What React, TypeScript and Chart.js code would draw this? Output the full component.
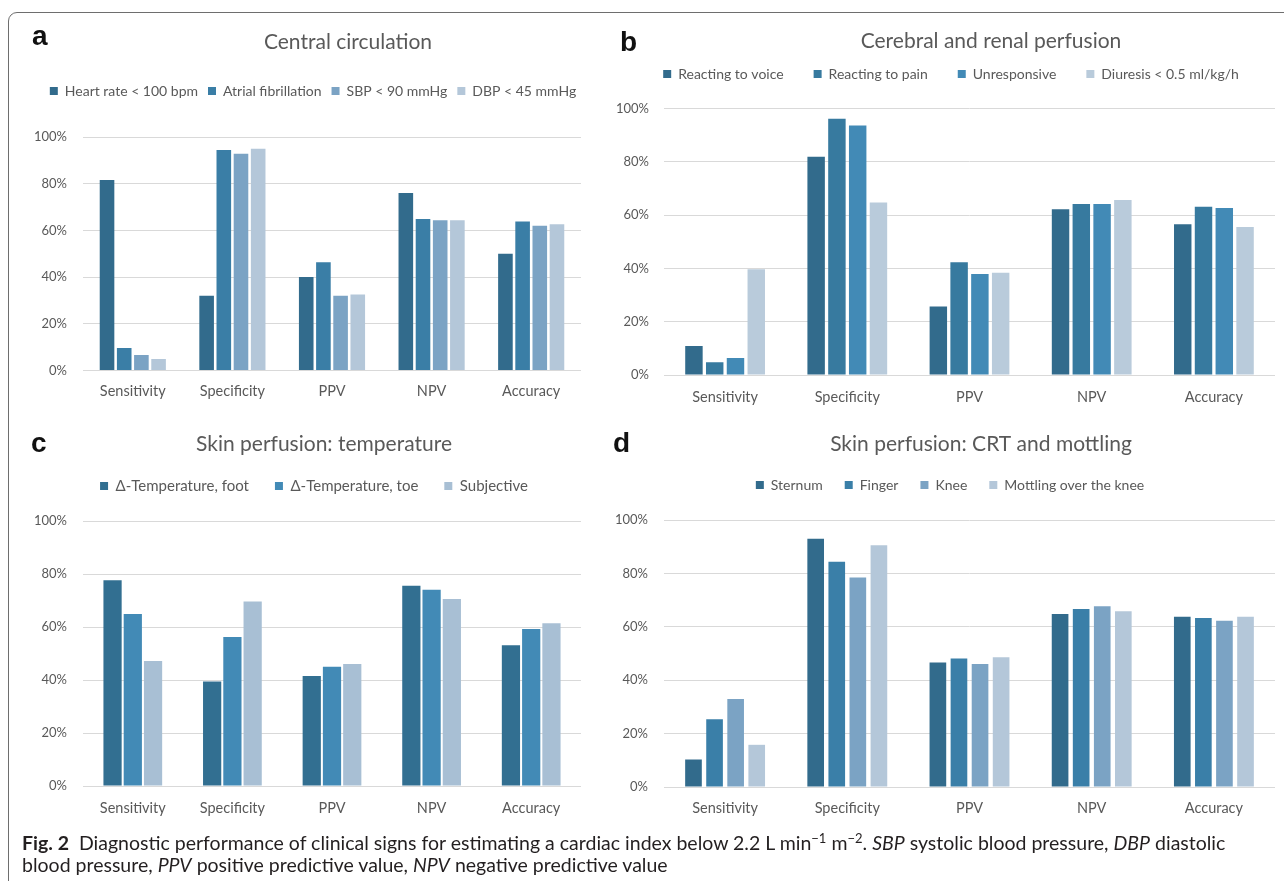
import React, { useEffect, useRef } from 'react';
import { Chart, registerables } from 'chart.js';

Chart.register(...registerables);

// ---------- data ----------
const categories = ['Sensitivity', 'Specificity', 'PPV', 'NPV', 'Accuracy'];
const yTicks = [0, 20, 40, 60, 80, 100];

const aTitle = 'Central circulation';
const aSeriesNames = ['Heart rate < 100 bpm', 'Atrial fibrillation', 'SBP < 90 mmHg', 'DBP < 45 mmHg'];
const aHeartRate = [81.7, 32.0, 40.1, 76.1, 50.0];
const aAtrialFib = [9.6, 94.6, 46.4, 65.0, 63.9];
const aSBP = [6.6, 92.9, 32.0, 64.4, 62.1];
const aDBP = [4.9, 95.1, 32.6, 64.4, 62.7];

const bTitle = 'Cerebral and renal perfusion';
const bSeriesNames = ['Reacting to voice', 'Reacting to pain', 'Unresponsive', 'Diuresis < 0.5 ml/kg/h'];
const bVoice = [10.9, 82.0, 25.7, 62.2, 56.6];
const bPain = [4.8, 96.2, 42.3, 64.2, 63.2];
const bUnresponsive = [6.4, 93.7, 37.9, 64.2, 62.7];
const bDiuresis = [39.7, 64.8, 38.4, 65.7, 55.6];

const cTitle = 'Skin perfusion: temperature';
const cSeriesNames = ['Δ-Temperature, foot', 'Δ-Temperature, toe', 'Subjective'];
const cFoot = [77.6, 39.4, 41.5, 75.6, 53.1];
const cToe = [64.9, 56.2, 45.0, 74.1, 59.2];
const cSubjective = [47.2, 69.6, 46.0, 70.6, 61.4];

const dTitle = 'Skin perfusion: CRT and mottling';
const dSeriesNames = ['Sternum', 'Finger', 'Knee', 'Mottling over the knee'];
const dSternum = [10.3, 93.0, 46.6, 64.8, 63.8];
const dFinger = [25.4, 84.4, 48.1, 66.7, 63.3];
const dKnee = [33.0, 78.5, 46.1, 67.7, 62.3];
const dMottling = [15.8, 90.5, 48.6, 65.8, 63.8];

// ---------- styles ----------
const FONT = 'Lato, "Open Sans", sans-serif';
const TEXT_GREY = '#595959';
const GRID = '#d9d9d9';
const TITLE_SIZE = 21;
const XTICK_SIZE = 14.5;
const YTICK_SIZE = 13;

const aColors = ['#326B8C', '#3A7EA6', '#7BA3C4', '#B4C7D9'];
const bColors = ['#326B8C', '#377A9F', '#428AB6', '#B9CBDB'];
const cColors = ['#326F91', '#428AB6', '#A8BFD4'];
const dColors = ['#326B8C', '#3A7FA8', '#7BA3C4', '#B4C7D9'];

type Layout = {
  titleX: number; titleY: number;
  legendX: number; legendY: number; legendPad: number; legendSize: number;
  canvasTop: number; yAxisWidth: number;
  chartLeft: number; chartRight: number; chartTop: number; chartBottom: number;
  yLabelRight: number; xLabelY: number;
  catPct: number; barPct: number;
};

const layoutA: Layout = {
  titleX: 348, titleY: 42, legendX: 313, legendY: 91, legendPad: 10, legendSize: 14,
  canvasTop: 14, yAxisWidth: 52, chartLeft: 83, chartRight: 581, chartTop: 137.3, chartBottom: 370.7,
  yLabelRight: 67, xLabelY: 392, catPct: 0.69, barPct: 0.85,
};
const layoutB: Layout = {
  titleX: 991, titleY: 41, legendX: 951, legendY: 74, legendPad: 30, legendSize: 14,
  canvasTop: 14, yAxisWidth: 56, chartLeft: 664, chartRight: 1275, chartTop: 108.7, chartBottom: 375,
  yLabelRight: 649, xLabelY: 397, catPct: 0.68, barPct: 0.84,
};
const layoutC: Layout = {
  titleX: 324, titleY: 444, legendX: 314, legendY: 486, legendPad: 26, legendSize: 15,
  canvasTop: 420, yAxisWidth: 52, chartLeft: 83, chartRight: 581, chartTop: 521, chartBottom: 786,
  yLabelRight: 67, xLabelY: 808, catPct: 0.61, barPct: 0.9,
};
const layoutD: Layout = {
  titleX: 981, titleY: 444, legendX: 950, legendY: 485, legendPad: 22, legendSize: 14,
  canvasTop: 420, yAxisWidth: 56, chartLeft: 664, chartRight: 1275, chartTop: 520, chartBottom: 787,
  yLabelRight: 648, xLabelY: 808, catPct: 0.69, barPct: 0.79,
};

type PanelProps = {
  title: string;
  names: string[];
  series: number[][];
  colors: string[];
  lay: Layout;
};

function Panel({ title, names, series, colors, lay }: PanelProps) {
  const ref = useRef<HTMLCanvasElement | null>(null);

  const canvasLeft = lay.chartLeft - lay.yAxisWidth;
  const canvasWidth = Math.ceil(lay.chartRight - canvasLeft + 2);
  const tickLH = XTICK_SIZE * 1.2;
  const xPad = lay.xLabelY - lay.chartBottom - tickLH / 2;
  const canvasHeight = Math.round(lay.chartBottom + tickLH + 2 * xPad - lay.canvasTop);
  const titleLH = TITLE_SIZE * 1.2;
  const legendH = lay.legendSize + lay.legendPad + 10;
  const titlePadTop = lay.chartTop - lay.canvasTop - titleLH - legendH;

  useEffect(() => {
    if (!ref.current) return;
    const placeBoxes = {
      id: 'placeBoxes',
      afterLayout(chart: any) {
        const t = chart.titleBlock;
        if (t) {
          const dx = (lay.titleX - canvasLeft) - (t.left + t.right) / 2;
          const dy = (lay.titleY - lay.canvasTop) - (t.top + titlePadTop + titleLH / 2);
          t.left += dx; t.right += dx; t.top += dy; t.bottom += dy;
        }
        const l = chart.legend;
        if (l) {
          const dx = (lay.legendX - canvasLeft) - (l.left + l.right) / 2;
          const dy = (lay.legendY - lay.canvasTop) - (l.top + lay.legendPad + lay.legendSize / 2);
          l.left += dx; l.right += dx; l.top += dy; l.bottom += dy;
        }
      },
    };
    const chart = new Chart(ref.current, {
      type: 'bar',
      data: {
        labels: categories,
        datasets: series.map((s, i) => ({
          label: names[i],
          data: s,
          backgroundColor: colors[i],
          borderWidth: 0,
          categoryPercentage: lay.catPct,
          barPercentage: lay.barPct,
        })),
      },
      options: {
        animation: false,
        responsive: false,
        devicePixelRatio: 1,
        layout: { padding: { left: 0, right: 2, top: 0, bottom: 0 } },
        events: [],
        plugins: {
          title: {
            display: true,
            text: title,
            color: TEXT_GREY,
            font: { family: FONT, size: TITLE_SIZE, weight: 'normal', lineHeight: 1.2 },
            padding: { top: titlePadTop, bottom: 0 },
          },
          legend: {
            display: true,
            position: 'top',
            labels: {
              boxWidth: 8,
              boxHeight: 8,
              padding: lay.legendPad,
              color: TEXT_GREY,
              font: { family: FONT, size: lay.legendSize },
            },
          },
          tooltip: { enabled: false },
        },
        scales: {
          x: {
            grid: { display: false, drawTicks: false },
            border: { display: false },
            ticks: {
              color: TEXT_GREY,
              font: { family: FONT, size: XTICK_SIZE, lineHeight: 1.2 },
              padding: xPad,
              maxRotation: 0,
            },
          },
          y: {
            min: 0,
            max: 100,
            grid: { color: GRID, lineWidth: 1, drawTicks: false },
            border: { display: false },
            afterBuildTicks: (s: any) => {
              s.ticks = yTicks.map((v) => ({ value: v }));
            },
            afterFit: (s: any) => {
              s.width = lay.yAxisWidth;
            },
            ticks: {
              color: TEXT_GREY,
              font: { family: FONT, size: YTICK_SIZE, lineHeight: 1.2 },
              padding: lay.chartLeft - lay.yLabelRight,
              callback: (v: any) => `${v}%`,
            },
          },
        },
      },
      plugins: [placeBoxes],
    } as any);
    return () => chart.destroy();
  }, []);

  return (
    <canvas
      ref={ref}
      width={canvasWidth}
      height={canvasHeight}
      style={{ position: 'absolute', left: canvasLeft, top: lay.canvasTop, width: canvasWidth, height: canvasHeight }}
    />
  );
}

const letterStyle = (left: number, top: number): React.CSSProperties => ({
  position: 'absolute',
  left,
  top,
  fontFamily: '"Liberation Sans", Arial, sans-serif',
  fontWeight: 'bold',
  fontSize: 28,
  lineHeight: '28px',
  color: '#111',
});

export default function App() {
  return (
    <div
      style={{
        position: 'fixed',
        left: 0,
        top: 0,
        width: 1284,
        height: 881,
        overflow: 'hidden',
        background: '#fff',
      }}
    >
      <div
        style={{
          position: 'absolute',
          left: 8,
          top: 12,
          width: 1320,
          height: 920,
          border: '1.5px solid #6e6e6e',
          borderRadius: 9,
          boxSizing: 'border-box',
        }}
      />
      <Panel title={aTitle} names={aSeriesNames} series={[aHeartRate, aAtrialFib, aSBP, aDBP]} colors={aColors} lay={layoutA} />
      <Panel title={bTitle} names={bSeriesNames} series={[bVoice, bPain, bUnresponsive, bDiuresis]} colors={bColors} lay={layoutB} />
      <Panel title={cTitle} names={cSeriesNames} series={[cFoot, cToe, cSubjective]} colors={cColors} lay={layoutC} />
      <Panel title={dTitle} names={dSeriesNames} series={[dSternum, dFinger, dKnee, dMottling]} colors={dColors} lay={layoutD} />
      <div style={letterStyle(32, 22)}>a</div>
      <div style={letterStyle(620, 28)}>b</div>
      <div style={letterStyle(31, 429)}>c</div>
      <div style={letterStyle(613, 429)}>d</div>
      <div
        style={{
          position: 'absolute',
          left: 22,
          top: 832,
          fontFamily: FONT,
          fontSize: 19.5,
          lineHeight: '22px',
          color: '#231f20',
          whiteSpace: 'nowrap',
        }}
      >
        <div>
          <b>Fig. 2</b>&nbsp; Diagnostic performance of clinical signs for estimating a cardiac index below 2.2 L min
          <sup style={{ fontSize: 13, lineHeight: 0 }}>−1</sup> m<sup style={{ fontSize: 13, lineHeight: 0 }}>−2</sup>.{' '}
          <i>SBP</i> systolic blood pressure, <i>DBP</i> diastolic
        </div>
        <div>
          blood pressure, <i>PPV</i> positive predictive value, <i>NPV</i> negative predictive value
        </div>
      </div>
    </div>
  );
}
